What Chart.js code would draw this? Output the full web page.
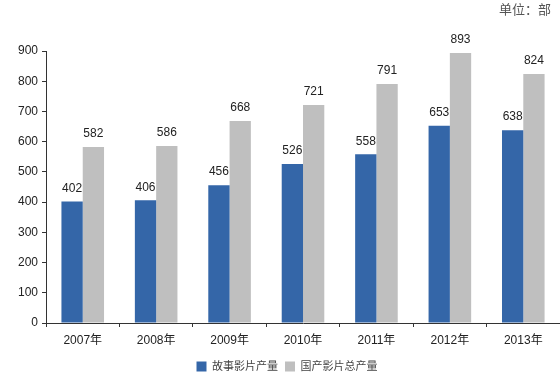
<!DOCTYPE html>
<html><head><meta charset="utf-8">
<script src="https://cdn.jsdelivr.net/npm/chart.js@4"></script>
<style>html,body{margin:0;padding:0;background:#fff}#wrap{width:560px;height:377px}</style>
</head><body><div id="wrap"><canvas id="c" width="560" height="377"></canvas></div>
<script>
const categories = ["2007年","2008年","2009年","2010年","2011年","2012年","2013年"];
const featureFilms = [402,406,456,526,558,653,638];
const totalFilms = [582,586,668,721,791,893,824];
const seriesNames = ["故事影片产量","国产影片总产量"];
const unitLabel = "单位：部";

const FONT = '"Liberation Sans", Arial, "Noto Sans CJK SC", sans-serif';

const valueLabels = {
  id: 'valueLabels',
  afterDatasetsDraw(chart) {
    const ctx = chart.ctx;
    ctx.save();
    ctx.font = '12px ' + FONT;
    ctx.fillStyle = '#222';
    ctx.textAlign = 'center';
    ctx.textBaseline = 'bottom';
    chart.data.datasets.forEach((ds, i) => {
      chart.getDatasetMeta(i).data.forEach((bar, j) => {
        ctx.fillText(String(ds.data[j]), bar.x, bar.y - 7);
      });
    });
    ctx.restore();
  }
};

const unitText = {
  id: 'unitText',
  afterDraw(chart) {
    const ctx = chart.ctx;
    ctx.save();
    ctx.font = '13px ' + FONT;
    ctx.fillStyle = '#555';
    ctx.textAlign = 'right';
    ctx.textBaseline = 'middle';
    ctx.fillText(unitLabel, chart.width - 9, 10);
    ctx.restore();
  }
};

new Chart(document.getElementById('c'), {
  type: 'bar',
  data: {
    labels: categories,
    datasets: [
      { label: seriesNames[0], data: featureFilms, backgroundColor: '#3466A8' },
      { label: seriesNames[1], data: totalFilms, backgroundColor: '#BFBFBF' }
    ]
  },
  options: {
    responsive: false,
    animation: false,
    devicePixelRatio: 1,
    layout: { padding: { left: 14, right: 0, top: 51, bottom: 0 } },
    categoryPercentage: 0.58,
    barPercentage: 1.0,
    scales: {
      x: {
        afterFit(scale) { scale.height = 31; },
        grid: { display: true, offset: true, drawOnChartArea: false, tickLength: 4, color: '#333', tickColor: '#333' },
        border: { display: true, color: '#333', width: 1 },
        ticks: { color: '#222', font: { size: 12, family: FONT }, padding: 6 }
      },
      y: {
        min: 0, max: 900,
        ticks: { stepSize: 100, color: '#222', font: { size: 12, family: FONT }, padding: 4 },
        grid: { display: true, drawOnChartArea: false, tickLength: 4, color: '#333', tickColor: '#333' },
        border: { display: true, color: '#333', width: 1 }
      }
    },
    plugins: {
      title: { display: false },
      legend: {
        position: 'bottom', maxHeight: 23,
        labels: { boxWidth: 10, boxHeight: 10, color: '#444', font: { size: 11, family: FONT }, padding: 7 }
      },
      tooltip: { enabled: false }
    }
  },
  plugins: [valueLabels, unitText]
});
</script></body></html>
